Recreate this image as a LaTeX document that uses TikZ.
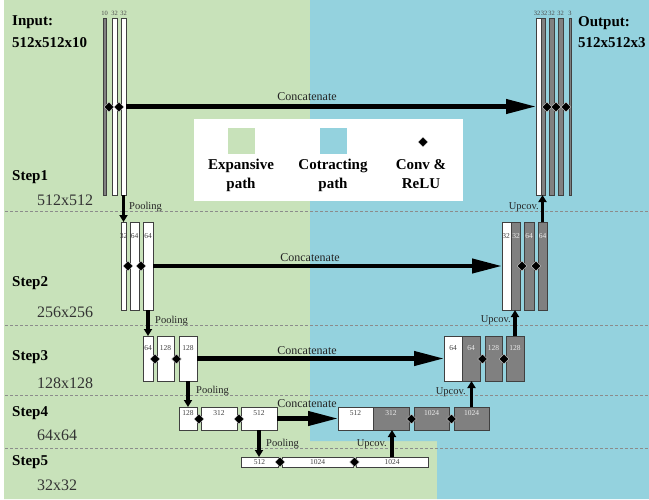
\documentclass[tikz,border=0pt]{standalone}
\usepackage{fontspec}
\setmainfont{Liberation Serif}
\usetikzlibrary{shapes.geometric,arrows.meta}
\definecolor{gbg}{RGB}{200,226,186}
\definecolor{bbg}{RGB}{148,210,222}
\definecolor{barg}{RGB}{128,128,128}
\definecolor{dashc}{RGB}{140,140,140}
\tikzset{
  barbox/.style={draw=black!75, line width=0.7pt, inner sep=0pt, outer sep=0pt},
  dia/.style={diamond, fill=black, draw=white!70!gray, line width=0.3pt, inner sep=0pt, minimum width=10pt, minimum height=10pt},
  blbl/.style={font=\fontsize{7.5}{8}\selectfont, text=black!75, inner sep=0pt},
  wlbl/.style={font=\fontsize{7.5}{8}\selectfont, text=white!85!gray, inner sep=0pt},
  tlbl/.style={font=\fontsize{6.5}{7}\selectfont, text=black!70, inner sep=0pt},
  concat/.style={line width=4.2pt, -{Triangle[length=30pt,width=14pt]}},
  vert/.style={line width=3.5pt, -{Triangle[length=7pt,width=8pt]}},
  small/.style={font=\fontsize{10.5}{11}\selectfont, text=black!85, inner sep=0pt},
  ctxt/.style={font=\fontsize{12}{12}\selectfont, text=black!85, inner sep=0pt},
  steplbl/.style={font=\bfseries\fontsize{15}{16}\selectfont, anchor=west, inner sep=0pt},
  sizelbl/.style={font=\fontsize{16}{17}\selectfont, text=black!80, anchor=west, inner sep=0pt},
  leglbl/.style={font=\bfseries\fontsize{15}{19}\selectfont, align=center, anchor=north, inner sep=0pt},
  dline/.style={draw=dashc, line width=1pt, dash pattern=on 3pt off 2pt},
}
\newcommand{\mkbar}[6]{\node[barbox, fill=#6, minimum width={(#4-#2)*1pt}, minimum height={(#5-#3)*1pt}] (#1) at ({(#2+#4)/2},{(#3+#5)/2}) {};}
\begin{document}
\begin{tikzpicture}[x=1pt,y=-1pt]
\useasboundingbox (0,0) rectangle (649,499);
% backgrounds
\fill[white] (0,0) rectangle (649,499);
\fill[gbg] (4,0) -- (310,0) -- (310,441) -- (437,441) -- (437,499) -- (4,499) -- cycle;
\fill[bbg] (310,0) -- (649,0) -- (649,499) -- (437,499) -- (437,441) -- (310,441) -- cycle;
% dashed separators
\foreach \yy in {211,325,395,448} { \draw[dline] (5,\yy) -- (649,\yy); }
% legend
\fill[white] (194,119) rectangle (463,201);
\fill[gbg] (228,128) rectangle (255,154);
\fill[bbg] (320,128) rectangle (347,154);
\node[dia] (legdia) at (423,142) {};
\node[leglbl] (leg1) at (241,159) {Expansive\\path};
\node[leglbl] (leg2) at (333,159) {Cotracting\\path};
\node[leglbl] (leg3) at (421,159) {Conv \&\\ReLU};
% side labels
\node[steplbl] (inp) at (12,22) {Input:};
\node[steplbl] (inps) at (12,43) {512x512x10};
\node[steplbl] (outp) at (578,23) {Output:};
\node[steplbl] (outps) at (578,43) {512x512x3};
\node[steplbl] (st1) at (12,177) {Step1};
\node[sizelbl] (sz1) at (37,200) {512x512};
\node[steplbl] (st2) at (12,283) {Step2};
\node[sizelbl] (sz2) at (37,312) {256x256};
\node[steplbl] (st3) at (12,357) {Step3};
\node[sizelbl] (sz3) at (37,383) {128x128};
\node[steplbl] (st4) at (12,413) {Step4};
\node[sizelbl] (sz4) at (37,435) {64x64};
\node[steplbl] (st5) at (12,462) {Step5};
\node[sizelbl] (sz5) at (37,485) {32x32};
% ---- Step1 left
\mkbar{b1a}{103}{18}{106}{195}{barg}
\mkbar{b1b}{112}{18}{117}{195}{white}
\mkbar{b1c}{121}{18}{126}{195}{white}
\node[tlbl] at (104.5,13) {10};
\node[tlbl] at (114.5,13) {32};
\node[tlbl] at (123.5,13) {32};
\node[dia] (d1a) at (109,107) {};
\node[dia] (d1b) at (119,107) {};
% ---- Step1 right
\mkbar{r1a}{536}{18}{541}{195}{white}
\mkbar{r1b}{541}{18}{545}{195}{barg}
\mkbar{r1c}{549}{18}{554}{195}{barg}
\mkbar{r1d}{558}{18}{563}{195}{barg}
\mkbar{r1e}{569}{18}{571}{195}{barg}
\node[tlbl] at (537,13) {32};
\node[tlbl] at (544,13) {32};
\node[tlbl] at (551.5,13) {32};
\node[tlbl] at (560.5,13) {32};
\node[tlbl] at (570,13) {3};
\node[dia] (d1c) at (547,107) {};
\node[dia] (d1d) at (556,107) {};
\node[dia] (d1e) at (566,107) {};
% ---- Step2 left
\mkbar{l2a}{121}{222}{126}{310}{white}
\mkbar{l2b}{130}{222}{139}{310}{white}
\mkbar{l2c}{143}{222}{153}{310}{white}
\node[blbl] at (123.5,236) {32};
\node[blbl] at (134.5,236) {64};
\node[blbl] at (148,236) {64};
\node[dia] (d2a) at (128,266) {};
\node[dia] (d2b) at (141,266) {};
% ---- Step2 right
\mkbar{r2a}{502}{222}{511}{310}{white}
\mkbar{r2b}{511}{222}{520}{310}{barg}
\mkbar{r2c}{524}{222}{534}{310}{barg}
\mkbar{r2d}{538}{222}{547}{310}{barg}
\node[blbl] at (506,236) {32};
\node[wlbl] at (516,236) {32};
\node[wlbl] at (529,236) {64};
\node[wlbl] at (542.5,236) {64};
\node[dia] (d2c) at (522,266) {};
\node[dia] (d2d) at (536,266) {};
% ---- Step3 left
\mkbar{l3a}{143}{336}{153}{381}{white}
\mkbar{l3b}{157}{336}{174}{381}{white}
\mkbar{l3c}{179}{336}{197}{381}{white}
\node[blbl] at (148,348) {64};
\node[blbl] at (165.5,348) {128};
\node[blbl] at (188,348) {128};
\node[dia] (d3a) at (155,359) {};
\node[dia] (d3b) at (176.5,359) {};
% ---- Step3 right
\mkbar{r3a}{444}{336}{462}{381}{white}
\mkbar{r3b}{462}{336}{480}{381}{barg}
\mkbar{r3c}{485}{336}{502}{381}{barg}
\mkbar{r3d}{506}{336}{524}{381}{barg}
\node[blbl] at (453,348) {64};
\node[wlbl] at (471,348) {64};
\node[wlbl] at (493.5,348) {128};
\node[wlbl] at (515,348) {128};
\node[dia] (d3c) at (482.5,359) {};
\node[dia] (d3d) at (504,359) {};
% ---- Step4 left
\mkbar{l4a}{179}{407}{197}{430}{white}
\mkbar{l4b}{201}{407}{237}{430}{white}
\mkbar{l4c}{241}{407}{277}{430}{white}
\node[blbl] at (188,413) {128};
\node[blbl] at (219,413) {312};
\node[blbl] at (259,413) {512};
\node[dia] (d4a) at (199,419) {};
\node[dia] (d4b) at (239,419) {};
% ---- Step4 right
\mkbar{r4a}{338}{407}{373}{430}{white}
\mkbar{r4b}{373}{407}{409}{430}{barg}
\mkbar{r4c}{414}{407}{449}{430}{barg}
\mkbar{r4d}{454}{407}{489}{430}{barg}
\node[blbl] at (355.5,413) {512};
\node[wlbl] at (391,413) {312};
\node[wlbl] at (431.5,413) {1024};
\node[wlbl] at (471.5,413) {1024};
\node[dia] (d4c) at (411.5,419) {};
\node[dia] (d4d) at (451.5,419) {};
% ---- Step5
\mkbar{s5a}{241}{457}{278}{467}{white}
\mkbar{s5b}{282}{457}{353}{467}{white}
\mkbar{s5c}{356}{457}{428}{467}{white}
\node[blbl] at (259.5,462) {512};
\node[blbl] at (317.5,462) {1024};
\node[blbl] at (392,462) {1024};
\node[dia] (d5a) at (280,462) {};
\node[dia] (d5b) at (354.5,462) {};
% ---- concatenate arrows
\draw[concat] (b1c.east) -- (r1a.west);
\draw[concat] (l2c.east) -- (r2a.west);
\draw[concat] (l3c.east) -- (r3a.west);
\draw[concat] (l4c.east) -- (r4a.west);
\node[ctxt] (c1) at (307,97) {Concatenate};
\node[ctxt] (c2) at (310,258) {Concatenate};
\node[ctxt] (c3) at (307,351) {Concatenate};
\node[ctxt] (c4) at (307,404) {Concatenate};
% ---- pooling arrows
\draw[vert] (b1c.south) -- (b1c.south |- l2a.north);
\draw[vert] (l2c.south) -- (l2c.south |- l3a.north);
\draw[vert] (l3c.south) -- (l3c.south |- l4a.north);
\draw[vert] (l4c.south) -- (l4c.south |- s5a.north);
\node[small, anchor=west] (p1) at (129,207) {Pooling};
\node[small, anchor=west] (p2) at (155,321) {Pooling};
\node[small, anchor=west] (p3) at (196,391) {Pooling};
\node[small, anchor=west] (p4) at (266,444) {Pooling};
% ---- upconv arrows
\draw[vert] (s5c.north) -- (s5c.north |- r4b.south);
\draw[vert] (r4d.north) -- (r4d.north |- r3b.south);
\draw[vert] (r3d.north) -- (r3d.north |- r2b.south);
\draw[vert] (r2d.north) -- (r2d.north |- r1b.south);
\node[small, anchor=east] (u1) at (539,207) {Upcov.};
\node[small, anchor=east] (u2) at (511,320) {Upcov.};
\node[small, anchor=east] (u3) at (466,392) {Upcov.};
\node[small, anchor=east] (u4) at (387,444) {Upcov.};
\end{tikzpicture}
\end{document}
